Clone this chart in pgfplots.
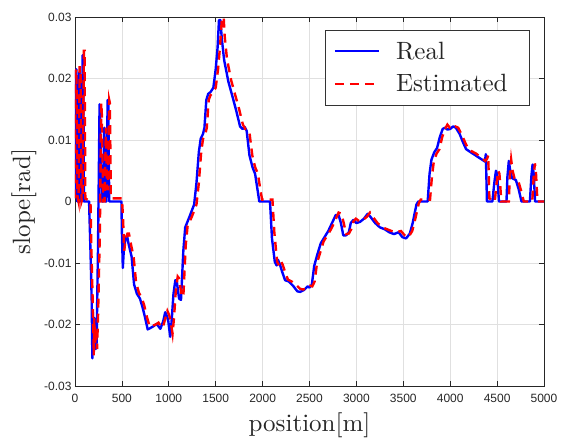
\documentclass[border=0pt]{standalone}
\usepackage{fontspec}
\usepackage{pgfplots}
\pgfplotsset{compat=1.18}
\newfontfamily\arialfont{Liberation Sans}
\newfontfamily\lmten{lmroman10-regular.otf}
\begin{document}
\begin{tikzpicture}
\path[use as bounding box] (-75pt,-53pt) rectangle (487pt,386pt);
\begin{axis}[
  scale only axis,
  width=469pt, height=369pt,
  at={(0,0)}, anchor=south west,
  xmin=0, xmax=5000, ymin=-0.03, ymax=0.03,
  xtick={0,500,...,5000},
  xticklabels={0,500,1000,1500,2000,2500,3000,3500,4000,4500,5000},
  ytick={-0.03,-0.02,-0.01,0,0.01,0.02,0.03},
  yticklabels={-0.03,-0.02,-0.01,0,0.01,0.02,0.03},
  scaled y ticks=false,
  /pgf/number format/assume math mode=true,
  tick label style={font=\arialfont\fontsize{12}{14}\selectfont, text=black!85},
  xticklabel style={yshift=-5pt},
  tick align=inside,
  major tick length=5pt,
  axis line style={black!85, line width=0.6pt},
  every tick/.style={black!85, line width=0.6pt},
  grid=major,
  grid style={black!12, line width=0.6pt},
  xlabel={position[m]},
  ylabel={slope[rad]},
  every axis x label/.style={at={(rel axis cs:0.5,0)}, anchor=center, yshift=-39pt,
    font=\lmten\fontsize{25}{28}\selectfont, text=black!85},
  every axis y label/.style={at={(rel axis cs:0,0.5)}, xshift=-51pt, rotate=90, anchor=center,
    font=\lmten\fontsize{25}{28}\selectfont, text=black!85},
  legend style={at={(rel axis cs:0.970,0.965)}, anchor=north east,
    font=\lmten\fontsize{25}{28}\selectfont, draw=black!80, line width=0.6pt,
    inner xsep=6pt, inner ysep=9.5pt, row sep=10pt, text=black!85},
  legend cell align=left,
  legend image code/.code={\draw[#1] (0pt,0pt) -- (44pt,0pt); \path (-2pt,0pt) (58pt,0pt);},
]
\addplot[blue, line width=2.4pt, line join=round] coordinates {
(0,0.0005)(5,0.021)(15,0.0215)(25,0.0)(35,0.0)(45,0.021)(55,0.0205)(62,0.0)(70,0.0)(82,0.0238)(88,0.023)(95,0.0)(150,0)
(165,-0.008)(178,-0.016)(185,-0.0255)(190,-0.018)(200,-0.021)(210,-0.019)(220,-0.024)(230,-0.023)(245,-0.008)(262,0.0158)(268,0.012)(285,0.0)(300,0.0)(312,0.012)(320,0.0)(335,0.0)(348,0.0165)(355,0.016)(365,0.0)(380,0)(495,0)
(500,-0.005)(510,-0.0108)(520,-0.008)(540,-0.0058)(555,-0.0056)(570,-0.0068)(604,-0.009)(630,-0.0135)(660,-0.015)(693,-0.0158)(720,-0.0172)(746,-0.0188)(775,-0.0208)(800,-0.0206)(835,-0.0203)(870,-0.0199)(890,-0.0203)(910,-0.0207)(940,-0.0195)(962,-0.018)(980,-0.0186)(995,-0.0195)(1015,-0.022)(1030,-0.0195)(1050,-0.015)(1070,-0.0128)(1085,-0.013)(1110,-0.0158)(1130,-0.016)(1155,-0.008)(1175,-0.0042)(1220,-0.0025)(1270,-0.0005)(1295,0.003)(1320,0.008)(1340,0.0102)(1365,0.011)(1380,0.012)(1400,0.0165)(1420,0.0175)(1445,0.0178)(1475,0.0185)(1500,0.0215)(1520,0.025)(1535,0.0295)(1550,0.0295)(1565,0.0265)(1590,0.023)(1635,0.0195)(1680,0.017)(1720,0.0147)(1760,0.0122)(1787,0.0118)(1810,0.0121)(1830,0.0115)(1860,0.0075)(1894,0.0055)(1920,0.0045)(1945,0.002)(1965,0.0)(2079,0.0)
(2100,-0.006)(2130,-0.0098)(2150,-0.0104)(2165,-0.0095)(2186,-0.0103)(2210,-0.0115)(2240,-0.0128)(2280,-0.013)(2330,-0.0138)(2370,-0.0146)(2400,-0.0147)(2440,-0.0144)(2480,-0.0138)(2500,-0.014)(2525,-0.0135)(2550,-0.0105)(2580,-0.0088)(2620,-0.0068)(2660,-0.0058)(2700,-0.0048)(2740,-0.0035)(2780,-0.0022)(2810,-0.0022)(2835,-0.0035)(2860,-0.0055)(2890,-0.0055)(2920,-0.005)(2940,-0.0035)(2967,-0.003)(3000,-0.0035)(3040,-0.0033)(3080,-0.0028)(3120,-0.002)(3150,-0.0025)(3200,-0.0035)(3250,-0.0042)(3300,-0.0045)(3350,-0.005)(3400,-0.0053)(3450,-0.005)(3490,-0.0058)(3530,-0.006)(3570,-0.0052)(3600,-0.0035)(3640,-0.0005)(3660,0.0)(3760,0.0)
(3780,0.0045)(3800,0.0068)(3830,0.008)(3860,0.0087)(3890,0.0105)(3920,0.0118)(3945,0.012)(3970,0.0117)(4000,0.0118)(4030,0.0122)(4060,0.012)(4100,0.011)(4140,0.0095)(4170,0.0085)(4200,0.0082)(4250,0.0077)(4300,0.0072)(4350,0.0067)(4370,0.0065)(4380,0.0077)(4392,0.0)(4450,0.0)(4470,0.003)(4488,0.005)(4500,0.0045)(4520,0.0)(4600,0.0)(4610,0.004)(4625,0.0066)(4640,0.005)(4660,0.0038)(4700,0.0035)(4730,0.002)(4760,0.0)(4850,0.0)(4865,0.004)(4878,0.006)(4890,0.0045)(4905,0.0)(5000,0.0)
};
\addlegendentry{Real}
\addplot[red, line width=2.4pt, dash pattern=on 9pt off 6pt] coordinates {
(0,0.0005)(5,0.021)(15,0.0215)(25,0.001)(38,0.0)(50,0.022)(60,0.021)(70,0.0)(80,0.0005)(95,0.0245)(102,0.0245)(110,0.0005)(165,0.0)
(175,-0.008)(190,-0.017)(200,-0.025)(205,-0.019)(215,-0.023)(225,-0.021)(235,-0.024)(245,-0.019)(265,-0.005)(280,0.016)(285,0.015)(300,0.0)(315,0.0)(330,0.012)(340,0.002)(350,0.002)(365,0.0165)(372,0.016)(382,0.0005)(500,0.0005)
(510,-0.002)(525,-0.008)(540,-0.006)(560,-0.0052)(575,-0.0052)(590,-0.0065)(625,-0.009)(650,-0.013)(680,-0.0148)(715,-0.0158)(740,-0.017)(765,-0.0187)(795,-0.0203)(830,-0.0202)(860,-0.02)(890,-0.0197)(915,-0.0203)(935,-0.0205)(960,-0.0192)(985,-0.0178)(1005,-0.0185)(1020,-0.0195)(1040,-0.0215)(1055,-0.019)(1075,-0.0145)(1095,-0.0122)(1110,-0.0125)(1135,-0.0152)(1155,-0.0155)(1180,-0.0072)(1200,-0.004)(1245,-0.0025)(1295,-0.0005)(1320,0.003)(1345,0.008)(1365,0.0102)(1390,0.011)(1405,0.012)(1425,0.0165)(1445,0.0173)(1470,0.0177)(1500,0.0185)(1525,0.0215)(1545,0.025)(1565,0.0295)(1585,0.03)(1595,0.027)(1620,0.0232)(1665,0.0197)(1710,0.0172)(1750,0.015)(1790,0.0125)(1815,0.0118)(1840,0.0117)(1860,0.0112)(1890,0.0075)(1920,0.0056)(1950,0.0045)(1975,0.002)(1995,0.0003)(2105,0.0003)
(2125,-0.005)(2155,-0.0098)(2175,-0.0104)(2195,-0.0097)(2215,-0.0103)(2240,-0.0115)(2270,-0.0127)(2310,-0.013)(2360,-0.0136)(2400,-0.0142)(2430,-0.0143)(2470,-0.0142)(2505,-0.0137)(2530,-0.0138)(2555,-0.013)(2580,-0.01)(2610,-0.0085)(2650,-0.0065)(2690,-0.0055)(2730,-0.0045)(2770,-0.0032)(2810,-0.0018)(2840,-0.002)(2865,-0.0035)(2890,-0.0053)(2920,-0.0052)(2945,-0.0045)(2970,-0.0032)(2995,-0.0028)(3030,-0.0032)(3070,-0.003)(3110,-0.0025)(3145,-0.0018)(3175,-0.0025)(3225,-0.0035)(3275,-0.0042)(3325,-0.0045)(3375,-0.0048)(3425,-0.005)(3475,-0.0048)(3515,-0.0055)(3555,-0.0058)(3595,-0.0048)(3625,-0.003)(3665,-0.0003)(3685,0.0003)(3785,0.0003)
(3805,0.004)(3825,0.0065)(3855,0.0078)(3885,0.0085)(3915,0.0105)(3945,0.0118)(3970,0.0125)(3995,0.012)(4025,0.0118)(4055,0.0122)(4085,0.012)(4125,0.0108)(4165,0.0094)(4195,0.0085)(4225,0.0082)(4275,0.0078)(4325,0.0072)(4375,0.0066)(4395,0.007)(4405,0.0075)(4418,0.0005)(4475,0.0)(4495,0.003)(4512,0.005)(4525,0.0045)(4545,0.0)(4625,0.0)(4635,0.004)(4650,0.0068)(4665,0.005)(4685,0.0038)(4725,0.0034)(4755,0.0018)(4785,0.0)(4875,0.0)(4890,0.004)(4903,0.0062)(4915,0.0045)(4930,0.0)(5000,0.0)
};
\addlegendentry{Estimated\hspace*{14pt}}
\end{axis}
\end{tikzpicture}
\end{document}
